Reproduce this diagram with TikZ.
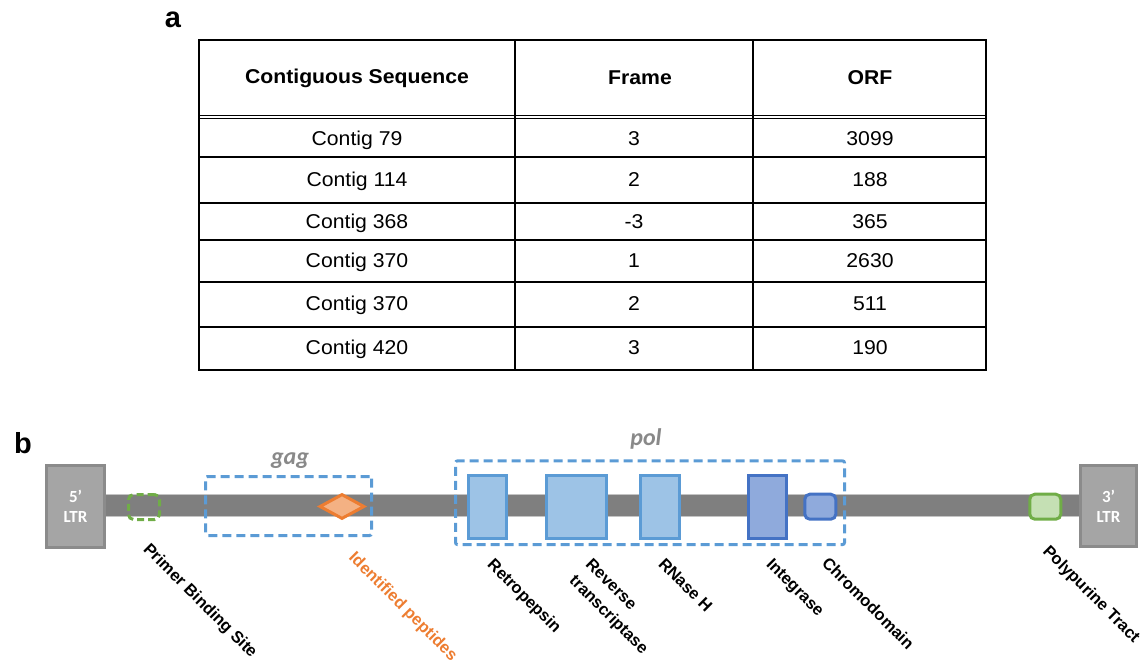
\documentclass[tikz,border=0pt]{standalone}
\usepackage{fontspec}
\usetikzlibrary{shapes.geometric}
\newfontfamily\tabfont[FakeStretch=1.06]{Liberation Sans}
\newfontfamily\lblfont{Liberation Sans}
\newfontfamily\calfont{Carlito}

\definecolor{ltrfill}{HTML}{A5A5A5}
\definecolor{ltrline}{HTML}{8B8B8B}
\definecolor{barc}{HTML}{7F7F7F}
\definecolor{baredge}{HTML}{C4C4C4}
\definecolor{grn}{HTML}{70AD47}
\definecolor{grnfill}{HTML}{C5E0B4}
\definecolor{blu}{HTML}{5B9BD5}
\definecolor{blufill}{HTML}{9DC3E6}
\definecolor{dblu}{HTML}{4472C4}
\definecolor{dblufill}{HTML}{8FAADC}
\definecolor{org}{HTML}{ED7D31}
\definecolor{orgfill}{HTML}{F4B183}
\definecolor{grytxt}{HTML}{898989}

\tikzset{
  panel/.style={font=\lblfont\bfseries\fontsize{29}{32}\selectfont, inner sep=0pt},
  cellhead/.style={anchor=base, font=\tabfont\bfseries\fontsize{20}{24}\selectfont, inner sep=0pt},
  cell/.style={anchor=base, font=\tabfont\fontsize{20}{24}\selectfont, inner sep=0pt},
  rule/.style={line width=1.8pt},
  thinrule/.style={line width=1.2pt},
  ltrbox/.style={draw=ltrline, fill=ltrfill, line width=3pt, inner sep=0pt,
    text=white, align=center, font=\calfont\bfseries\fontsize{17}{20}\selectfont},
  region/.style={draw=blu, line width=3pt, dash pattern=on 9pt off 5pt,
    rounded corners=2pt, inner sep=0pt},
  lightdom/.style={draw=blu, fill=blufill, line width=3pt, inner sep=0pt},
  darkdom/.style={draw=dblu, fill=dblufill, line width=3pt, inner sep=0pt},
  smallbox/.style={line width=3pt, inner sep=0pt, rounded corners=5pt,
    minimum width=31pt, minimum height=25pt},
  regname/.style={text=grytxt, inner sep=0pt,
    font=\calfont\bfseries\itshape\fontsize{24}{26}\selectfont},
  lbl/.style={rotate=-45, anchor=base west, inner sep=0pt, align=left,
    font=\lblfont\bfseries\fontsize{16.5}{23}\selectfont}
}

\begin{document}
\begin{tikzpicture}[x=1pt,y=-1pt]
\useasboundingbox (0,0) rectangle (1146,662);

% ---------- panel a: ORF table ----------
\node[panel] (pa) at (173,20) {a};

\draw[rule] (199,40) rectangle (986,370);
\draw[rule] (515,40) -- (515,370);
\draw[rule] (753,40) -- (753,370);
\draw[thinrule] (199,115.8) -- (986,115.8);
\draw[thinrule] (199,118.8) -- (986,118.8);
\foreach \yy in {157,203,240,282,327}
  \draw[rule] (199,\yy) -- (986,\yy);

\node[cellhead] (h1) at (357,83.5) {Contiguous Sequence};
\node[cellhead] (h2) at (640,84.5) {Frame};
\node[cellhead] (h3) at (870,84.5) {ORF};

\foreach \yy/\ca/\cb/\cc [count=\i] in
  {145/Contig 79/3/3099, 186.5/Contig 114/2/188, 228/Contig 368/-3/365,
   267/Contig 370/1/2630, 310/Contig 370/2/511, 354.5/Contig 420/3/190}
{
  \node[cell] (c\i a) at (357,\yy) {\ca};
  \node[cell] (c\i b) at (634,\yy) {\cb};
  \node[cell] (c\i c) at (870,\yy) {\cc};
}

% ---------- panel b: element map ----------
\node[panel] (pb) at (23,443) {b};

% backbone
\filldraw[fill=barc, draw=baredge, line width=1pt] (100,494.5) rectangle (1085,516.5);

% long terminal repeats
\node[ltrbox, minimum width=58pt, minimum height=82pt] (ltr5) at (75.5,506.5) {5’\\LTR};
\node[ltrbox, minimum width=56pt, minimum height=81pt] (ltr3) at (1108.5,506) {3’\\LTR};

% primer binding site
\node[smallbox, draw=grn, dash pattern=on 7pt off 4pt] (pbs) at (144,507) {};

% gag region with peptide hits
\node[region, minimum width=166pt, minimum height=59pt] (gag) at (288.5,506) {};
\node[diamond, draw=org, fill=orgfill, line width=3pt, inner sep=0pt,
      minimum width=45pt, minimum height=25pt] (pep) at (342,506.5) {};

% pol region with its domains
\node[region, minimum width=389pt, minimum height=83.7pt] (pol) at (650,502.7) {};
\node[lightdom, minimum width=38pt, minimum height=63pt] (rp) at (487.8,507) {};
\node[lightdom, minimum width=60.6pt, minimum height=63pt] (rt) at (576.5,507) {};
\node[lightdom, minimum width=38.7pt, minimum height=63pt] (rh) at (659.8,507) {};
\node[darkdom, minimum width=38pt, minimum height=63pt] (int) at (767.2,507) {};
\node[smallbox, draw=dblu, fill=dblufill] (chr) at (820.3,506.7) {};

% polypurine tract
\node[smallbox, draw=grn, fill=grnfill] (ppt) at (1045.3,506.7) {};

% region names
\node[regname, anchor=base] (gagname) at (290,464) {gag};
\node[regname, anchor=base] (polname) at (646,445) {pol};

% element labels (base anchor of a two-line label sits on its last line)
\node[lbl] (lpbs) at (142.5,550) {Primer Binding Site};
\node[lbl, text=org] (lpep) at (348,558.5) {Identified peptides};
\node[lbl] (lrp) at (486.5,565.5) {Retropepsin};
\node[lbl] (lrt) at (568.5,581.5) {Reverse\\transcriptase};
\node[lbl] (lrh) at (657.5,565) {RNase H};
\node[lbl] (lint) at (765.5,565) {Integrase};
\node[lbl] (lchr) at (821,564) {Chromodomain};
\node[lbl] (lppt) at (1042,552) {Polypurine Tract};
\end{tikzpicture}
\end{document}
